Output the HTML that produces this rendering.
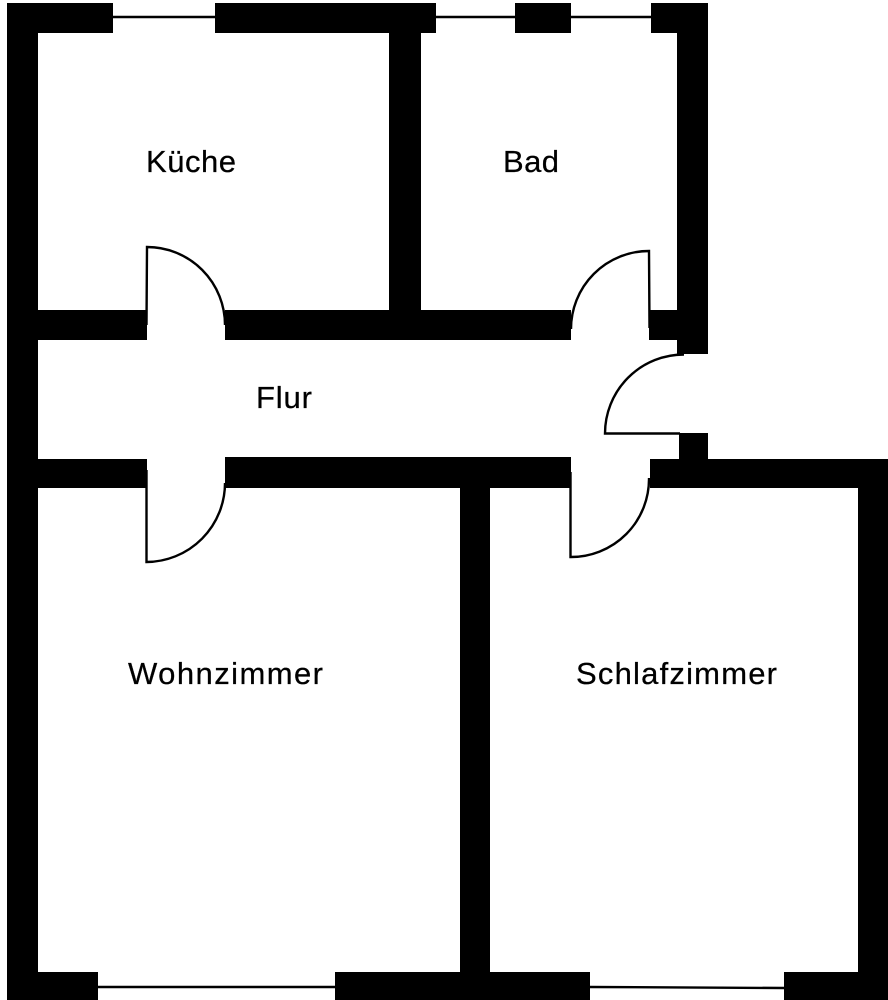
<!DOCTYPE html>
<html>
<head>
<meta charset="utf-8">
<style>
html,body{margin:0;padding:0;background:#fff;}
svg{display:block;}
text{font-family:"Liberation Sans",sans-serif;font-size:31px;fill:#000;stroke:#000;stroke-width:.25px;}
</style>
</head>
<body>
<svg width="888" height="1000" viewBox="0 0 888 1000" xmlns="http://www.w3.org/2000/svg">
<rect width="888" height="1000" fill="#fff"/>
<g fill="#000">
<!-- outer left -->
<rect x="7" y="3" width="31" height="997"/>
<!-- top wall -->
<rect x="7" y="3" width="106" height="30"/>
<rect x="215" y="3" width="221" height="30"/>
<rect x="515" y="3" width="56" height="30"/>
<rect x="651" y="3" width="57" height="30"/>
<!-- inner vertical Kueche/Bad -->
<rect x="389" y="33" width="32" height="278"/>
<!-- right wall upper -->
<rect x="677" y="3" width="31" height="351"/>
<!-- wall y 310 -->
<rect x="38" y="310" width="109" height="30"/>
<rect x="225" y="310" width="346" height="30"/>
<rect x="649" y="310" width="29" height="30"/>
<!-- wall y 459 -->
<rect x="38" y="459" width="109" height="29"/>
<rect x="225" y="457" width="346" height="31"/>
<rect x="650" y="459" width="238" height="29"/>
<!-- stub -->
<rect x="679" y="433" width="29" height="27"/>
<!-- right wall lower -->
<rect x="858" y="459" width="30" height="541"/>
<!-- inner vertical lower -->
<rect x="460" y="488" width="30" height="512"/>
<!-- bottom wall -->
<rect x="7" y="972" width="91" height="28"/>
<rect x="335" y="972" width="255" height="28"/>
<rect x="784" y="972" width="104" height="28"/>
</g>
<g fill="none" stroke="#000" stroke-width="2.4">
<!-- windows -->
<path d="M113 17H215"/>
<path d="M436 17H515"/>
<path d="M571 17H651"/>
<path d="M98 987H335"/>
<path d="M590 987L784 988"/>
<!-- doors -->
<path d="M146.500 325L147 247A78 78 0 0 1 225 325"/>
<path d="M146.500 470V562A79 79 0 0 0 225 483"/>
<path d="M649.500 328L649 251A78 78 0 0 0 571 329"/>
<path d="M570.500 472V557A78 78 0 0 0 649 478"/>
<path d="M684 354.500A79 79 0 0 0 605 433.500H680"/>
</g>
<text x="146" y="172" textLength="90" lengthAdjust="spacing">Küche</text>
<text x="503" y="172" textLength="56" lengthAdjust="spacing">Bad</text>
<text x="256" y="408" textLength="56" lengthAdjust="spacing">Flur</text>
<text x="128" y="684" textLength="195" lengthAdjust="spacing">Wohnzimmer</text>
<text x="576" y="684" textLength="201" lengthAdjust="spacing">Schlafzimmer</text>
</svg>
</body>
</html>
